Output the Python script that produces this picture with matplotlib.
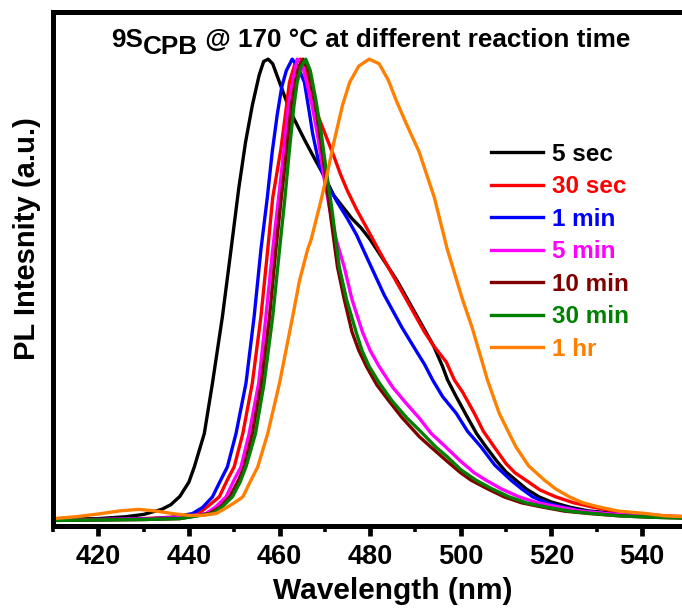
import numpy as np
from matplotlib import pyplot as plt
from matplotlib.ticker import MultipleLocator

plt.rcParams['font.family'] = ['Liberation Sans', 'DejaVu Sans']
plt.rcParams['font.weight'] = 'bold'

# 5 sec
wl_5s = [410, 420, 426, 430, 434, 436, 438, 440, 441.2, 443.4, 445.2, 447.4, 449.3, 451, 452.5, 454,
         455.5, 456.5, 457.5, 458.5, 460, 461.5, 463, 465.5, 468, 470, 472, 474, 476, 478, 480, 482,
         484, 486, 488, 490, 492, 494, 496, 497.1, 499, 501.5, 503.5, 505.6, 508, 510, 512.2, 514.5,
         517.3, 520, 524, 528, 535, 540, 545, 550, 560]
pl_5s = [0.004, 0.006, 0.01, 0.015, 0.026, 0.036, 0.054, 0.085, 0.118, 0.19, 0.299, 0.443, 0.588, 0.72,
         0.82, 0.9, 0.965, 0.995, 1.0, 0.99, 0.95, 0.91, 0.875, 0.826, 0.78, 0.745, 0.705, 0.68, 0.655,
         0.635, 0.61, 0.58, 0.55, 0.52, 0.485, 0.45, 0.415, 0.38, 0.335, 0.306, 0.27, 0.225, 0.19,
         0.161, 0.13, 0.107, 0.089, 0.07, 0.053, 0.042, 0.031, 0.023, 0.016, 0.012, 0.01, 0.009, 0.008]

# 30 sec
wl_30s = [410, 420, 430, 436, 440, 442.3, 444.5, 446.7, 448.5, 450, 451.9, 454, 455.9, 457.4, 458.5,
          460.3, 461.3, 462.2, 463.4, 464.6, 465.6, 466.6, 468, 469.2, 470.6, 472, 473.5, 475, 477,
          479.8, 482, 484, 486, 488, 490, 492, 494, 496.8, 498.6, 500.4, 503, 505, 507.4, 510, 512,
          514.4, 517.5, 521, 525, 529.1, 534, 538.7, 545, 550, 560]
pl_30s = [0.003, 0.004, 0.006, 0.009, 0.013, 0.018, 0.035, 0.053, 0.09, 0.118, 0.19, 0.299, 0.443,
          0.588, 0.7, 0.805, 0.88, 0.95, 0.99, 1.0, 0.985, 0.94, 0.89, 0.86, 0.825, 0.79, 0.75, 0.715,
          0.675, 0.625, 0.585, 0.55, 0.515, 0.48, 0.445, 0.41, 0.38, 0.345, 0.306, 0.28, 0.234, 0.195,
          0.161, 0.125, 0.105, 0.089, 0.068, 0.053, 0.04, 0.031, 0.022, 0.017, 0.012, 0.01, 0.008]

# 1 min
wl_1m = [410, 420, 430, 436, 440.8, 443, 445.2, 446.8, 448.5, 450.4, 452.6, 454.4, 455.9, 457.3, 458.4,
         459.5, 460.5, 461.5, 462.8, 464, 465.5, 466.5, 467.3, 468.8, 470.5, 472.8, 475, 477, 479.8,
         483.1, 487, 490.1, 492, 493.8, 496, 499, 501.5, 504.5, 507.5, 511.1, 513.5, 515.9, 519, 522.5,
         527, 532, 540, 550, 560]
pl_1m = [0.003, 0.004, 0.005, 0.008, 0.017, 0.03, 0.053, 0.085, 0.118, 0.19, 0.299, 0.443, 0.588, 0.7,
         0.8, 0.88, 0.94, 0.975, 1.0, 0.985, 0.95, 0.89, 0.84, 0.77, 0.73, 0.69, 0.655, 0.62, 0.56,
         0.49, 0.42, 0.37, 0.34, 0.306, 0.27, 0.234, 0.195, 0.161, 0.122, 0.089, 0.07, 0.053, 0.04,
         0.031, 0.022, 0.017, 0.011, 0.008, 0.007]

# 5 min
wl_5m = [410, 420, 430, 438, 443.8, 446, 448.2, 450, 451.5, 453.3, 455.4, 457, 458.5, 459.8, 461, 462,
         462.9, 463.9, 465, 466, 467.2, 468.5, 469.9, 471, 472.5, 474.3, 476, 478.3, 480, 482, 485, 488,
         490.9, 493.5, 496.7, 500, 503, 505.6, 509, 512.9, 517, 521.7, 526, 532, 540, 550, 560]
pl_5m = [0.003, 0.004, 0.005, 0.008, 0.017, 0.032, 0.053, 0.09, 0.118, 0.19, 0.299, 0.443, 0.588, 0.7,
         0.805, 0.9, 0.95, 1.0, 0.99, 0.95, 0.9, 0.83, 0.74, 0.68, 0.61, 0.55, 0.48, 0.41, 0.37, 0.335,
         0.29, 0.255, 0.223, 0.19, 0.161, 0.13, 0.105, 0.089, 0.07, 0.053, 0.04, 0.031, 0.023, 0.017,
         0.011, 0.008, 0.007]

# 10 min
wl_10m = [410, 420, 430, 438, 444.5, 447, 449, 451, 452.2, 454, 456, 457.8, 459.2, 460.4, 461.6, 462.6,
          463.5, 464.3, 465.2, 466.2, 467.7, 468.7, 470, 471.3, 472.8, 474.3, 476, 477.5, 479.2, 481.5,
          484.2, 487, 490.9, 493.4, 497, 500, 502.3, 506, 509.6, 513.5, 518, 523, 528.4, 535, 542, 550,
          560]
pl_10m = [0.002, 0.003, 0.004, 0.006, 0.017, 0.032, 0.053, 0.09, 0.118, 0.19, 0.299, 0.443, 0.588, 0.7,
          0.805, 0.9, 0.95, 0.985, 1.0, 0.98, 0.913, 0.85, 0.76, 0.66, 0.55, 0.48, 0.41, 0.37, 0.335,
          0.295, 0.26, 0.225, 0.183, 0.161, 0.13, 0.105, 0.089, 0.07, 0.053, 0.04, 0.031, 0.022, 0.017,
          0.012, 0.009, 0.007, 0.006]

# 30 min
wl_30m = [410, 420, 430, 438, 445.2, 447.4, 449.6, 451.3, 452.6, 454.7, 456.6, 458.5, 460, 461.2, 462.2,
          463.2, 463.9, 464.8, 465.8, 466.8, 468, 469.2, 470.3, 471.5, 473.2, 474.8, 476.9, 478.2,
          479.8, 482, 484.9, 488, 490.9, 494.5, 497, 500, 503.4, 507, 510.7, 514.5, 518.8, 524, 529.1,
          535, 542, 550, 560]
pl_30m = [0.002, 0.003, 0.004, 0.006, 0.017, 0.032, 0.053, 0.085, 0.118, 0.19, 0.299, 0.443, 0.588,
          0.7, 0.805, 0.9, 0.95, 0.985, 1.0, 0.975, 0.913, 0.84, 0.76, 0.68, 0.55, 0.48, 0.41, 0.37,
          0.335, 0.3, 0.26, 0.225, 0.197, 0.161, 0.14, 0.112, 0.089, 0.07, 0.053, 0.04, 0.031, 0.022,
          0.017, 0.012, 0.009, 0.007, 0.006]

# 1 hr
wl_1h = [410, 415, 420, 425, 429, 433, 437, 440, 443, 446, 448, 450, 451.9, 453.5, 455.2, 457.4, 460,
         462.9, 464.4, 466.2, 467, 469.2, 470.6, 472, 473.9, 475.5, 477.5, 479.8, 482, 484, 485.8, 488,
         490.8, 492.5, 494.2, 497, 500.4, 502.5, 504, 505.9, 508.5, 510.2, 512.2, 515, 518.5, 521, 524,
         527, 530.6, 535, 540.9, 545, 550, 560]
pl_1h = [0.006, 0.01, 0.016, 0.023, 0.026, 0.022, 0.016, 0.013, 0.013, 0.017, 0.028, 0.04, 0.053, 0.085,
         0.118, 0.19, 0.299, 0.443, 0.52, 0.588, 0.61, 0.696, 0.755, 0.82, 0.9, 0.95, 0.985, 1.0, 0.99,
         0.955, 0.91, 0.86, 0.8, 0.75, 0.7, 0.59, 0.48, 0.42, 0.37, 0.306, 0.234, 0.2, 0.161, 0.12,
         0.089, 0.07, 0.053, 0.04, 0.031, 0.022, 0.017, 0.012, 0.01, 0.008]

labels = ['5 sec', '30 sec', '1 min', '5 min', '10 min', '30 min', '1 hr']
colors = ['black', '#ff0000', '#0000ff', '#ff00ff', '#800000', '#008000', '#ff8000']
series = [(wl_5s, pl_5s), (wl_30s, pl_30s), (wl_1m, pl_1m), (wl_5m, pl_5m),
          (wl_10m, pl_10m), (wl_30m, pl_30m), (wl_1h, pl_1h)]
xticks = [420, 440, 460, 480, 500, 520, 540]

W, H = 682, 608
fig = plt.figure(figsize=(W / 100, H / 100), dpi=100)
# axes run past the right edge (the original figure is cropped there)
ax = fig.add_axes([53 / W, 82 / H, 679.5 / W, 514 / H])

for (wl, pl), lab, c in zip(series, labels, colors):
    ax.plot(wl, pl, color=c, lw=2.4, label=lab)

ax.set_xlim(410, 560)
ax.set_ylim(-0.01, 1.102)
ax.set_xticks(xticks)
ax.xaxis.set_minor_locator(MultipleLocator(10))
ax.set_yticks([])
for s in ax.spines.values():
    s.set_linewidth(3.6)
ax.tick_params(axis='x', which='major', direction='out', length=7, width=3.4, labelsize=19.5, pad=6)
ax.tick_params(axis='x', which='minor', direction='out', length=4, width=2.6)
for t in ax.get_xticklabels():
    t.set_fontweight('bold')

ax.set_xlabel('Wavelength (nm)', fontsize=21.5, fontweight='bold', labelpad=5)
ax.set_ylabel('PL Intesnity (a.u.)', fontsize=21, fontweight='bold')
ax.yaxis.set_label_coords(-12 / 679.5, 0.56)

leg = ax.legend(loc='upper left', bbox_to_anchor=(491 / W, 1 - 143 / H),
                bbox_transform=fig.transFigure, frameon=False, fontsize=17.5,
                handlelength=2.15, handletextpad=0.38, labelspacing=0.39,
                borderpad=0, borderaxespad=0, labelcolor='linecolor')
for t in leg.get_texts():
    t.set_fontweight('bold')

# title with a full-size lowered subscript
r = fig.canvas.get_renderer()
x0 = 111
base = H - 47
parts = [('9S', 0), ('CPB', -7), (' @ 170 \u00b0C at different reaction time', 0)]
for txt, dy in parts:
    t = fig.text(x0 / W, (base + dy) / H, txt, fontsize=18.8, fontweight='bold',
                 ha='left', va='baseline')
    x0 = t.get_window_extent(r).x1

plt.savefig('out.png', dpi=100)
